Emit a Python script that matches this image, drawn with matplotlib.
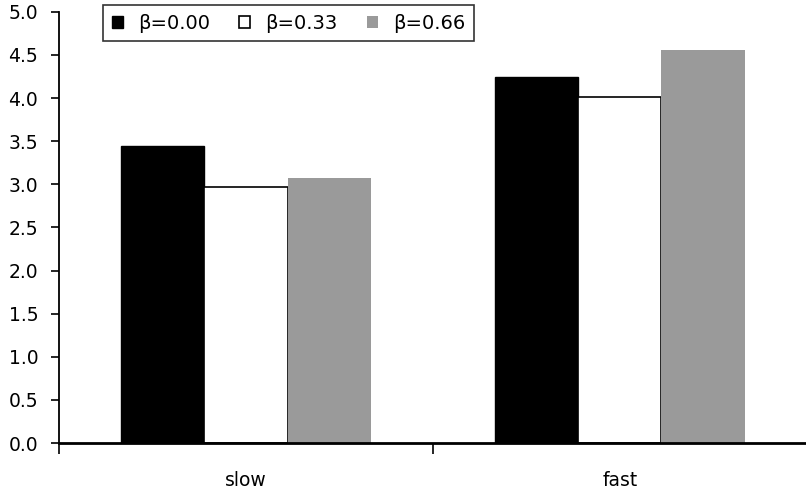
import numpy as np
import matplotlib
matplotlib.use("Agg")
import matplotlib.pyplot as plt
from matplotlib.ticker import MultipleLocator, FixedLocator

# ── Data ──────────────────────────────────────────────────────────────────────
speeds   = ["slow", "fast"]
labels   = ["β=0.00", "β=0.33", "β=0.66"]
beta_000 = [3.45, 4.25]
beta_033 = [2.97, 4.01]
beta_066 = [3.07, 4.56]

plt.rcParams["font.family"] = ["DejaVu Sans"]

fig = plt.figure(figsize=(8.06, 4.94), dpi=100)
ax = fig.add_axes([0.0732, 0.103, 0.928, 0.873])

x = np.arange(len(speeds))
w = 0.222
ax.bar(x - w, beta_000, w, color="black", edgecolor="black", linewidth=1, label=labels[0])
ax.bar(x,     beta_033, w, color="white", edgecolor="black", linewidth=1.2, label=labels[1])
ax.bar(x + w, beta_066, w, color="#9a9a9a", edgecolor="none", label=labels[2])

ax.set_xlim(-0.5, 1.5)
ax.set_ylim(0, 5.0)
ax.yaxis.set_major_locator(MultipleLocator(0.5))
ax.yaxis.set_major_formatter(lambda v, p: f"{v:.1f}")

ax.set_xticks(x)
ax.set_xticklabels(speeds)
ax.xaxis.set_minor_locator(FixedLocator([-0.5, 0.5, 1.5]))
ax.tick_params(axis="x", which="major", length=0, labelsize=13.5, pad=20)
ax.tick_params(axis="x", which="minor", length=8, width=1.2, direction="out")
ax.tick_params(axis="y", length=6, width=1.2, labelsize=13.5, pad=9)

for s in ["top", "right"]:
    ax.spines[s].set_visible(False)
ax.spines["left"].set_linewidth(1.3)
ax.spines["bottom"].set_linewidth(2)

leg = fig.legend(loc="upper left", bbox_to_anchor=(0.128, 0.99), ncol=3,
                 fontsize=14, frameon=True, fancybox=False, edgecolor="black",
                 handlelength=0.55, handleheight=0.55, handletextpad=0.8,
                 columnspacing=1.5, borderpad=0.45, borderaxespad=0.0)
leg.get_frame().set_linewidth(1.2)

plt.savefig("out.png", dpi=100)
